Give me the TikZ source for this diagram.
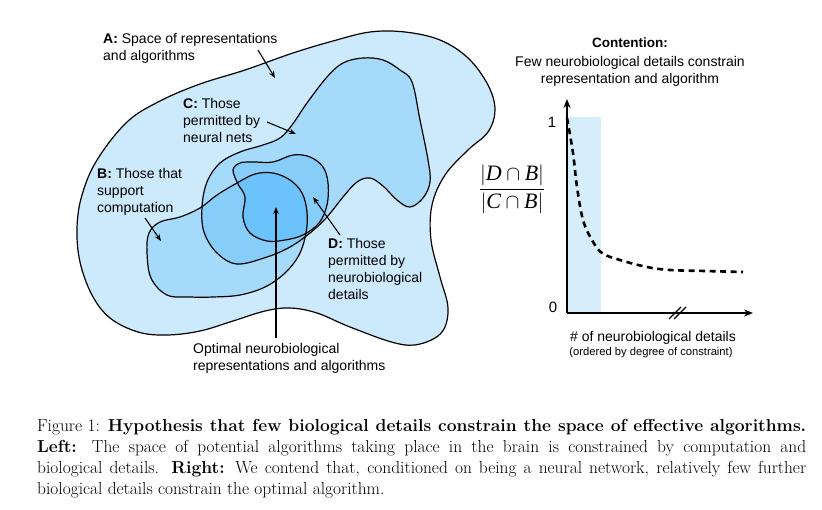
\documentclass[tikz,border=0pt]{standalone}
\usepackage{fontspec}
\newfontfamily\arial{Liberation Sans}
\newfontfamily\tnr{Liberation Serif}
\usetikzlibrary{arrows.meta}
\definecolor{regA}{RGB}{205,234,252}
\definecolor{overlay}{RGB}{0,150,250}
\definecolor{shadebg}{RGB}{214,237,252}
\tikzset{
  lbl/.style={font=\arial\fontsize{14}{17}\selectfont, align=left, anchor=west, inner sep=0pt},
  ctr/.style={font=\arial\fontsize{14}{17}\selectfont, align=center, inner sep=0pt},
  outline/.style={draw=black, line width=1.2pt},
  layer/.style={fill=overlay, fill opacity=0.19},
  pointer/.style={-{Stealth[length=7pt,width=5.5pt]}, line width=1.1pt},
  axisline/.style={-{Stealth[length=9pt,width=7pt]}, line width=1.8pt},
  dcurve/.style={line width=2.6pt, dash pattern=on 6pt off 4.5pt},
}
\newcommand\shpA{plot[smooth cycle, tension=0.6] coordinates {(77,228) (82,195) (97,160) (127,122) (160,101) (200,84) (245,70) (293,53) (333,41) (370,32) (405,32) (440,40) (468,58) (488,85) (495,110) (488,132) (468,150) (445,175) (432,205) (431,240) (440,277) (448,308) (442,332) (420,344) (395,343) (350,327) (317,313) (290,308) (265,311) (233,321) (200,331) (167,335) (138,332) (110,318) (92,295) (80,262)}}
\newcommand\shpB{plot[smooth cycle, tension=0.6] coordinates {(147,252) (151,278) (167,295) (190,297) (213,297) (240,295) (265,287) (285,273) (299,255) (306,233) (307,212) (302,193) (290,180) (273,173) (255,174) (237,183) (217,195) (200,208) (180,217) (160,222) (149,233)}}
\newcommand\shpC{plot[smooth cycle, tension=0.6] coordinates {(217,253) (204,232) (202,207) (207,182) (220,163) (240,152) (263,145) (280,138) (292,125) (307,103) (327,77) (343,63) (363,58) (383,60) (400,70) (412,82) (420,120) (428,160) (430,182) (423,198) (410,207) (397,200) (383,186) (370,178) (357,182) (343,197) (327,217) (310,233) (290,247) (267,257) (237,264)}}
\newcommand\shpD{plot[smooth cycle, tension=0.6] coordinates {(233,170) (240,163) (253,162) (273,162) (293,155) (310,157) (323,167) (328,183) (327,205) (319,223) (303,235) (285,240) (267,241) (250,233) (243,217) (245,197) (238,184)}}
\newcommand\ti[1]{\hbox{\tnr\itshape #1}}
\begin{document}
\begin{tikzpicture}[x=1pt,y=-1pt]
\useasboundingbox (0,0) rectangle (822,509);
\fill[white] (0,0) rectangle (822,509);

% ---- left: regions
\fill[regA] \shpA;
\fill[layer] \shpB;
\fill[layer] \shpC;
\fill[layer] \shpD;
\draw[outline] \shpA;
\draw[outline] \shpB;
\draw[outline] \shpC;
\draw[outline] \shpD;

% ---- labels
\node[lbl] (la) at (103,48) {\textbf{A:} Space of representations\\and algorithms};
\node[lbl] (lc) at (183,120) {\textbf{C:} Those\\permitted by\\neural nets};
\node[lbl] (lb) at (97,192) {\textbf{B:} Those that\\support\\computation};
\node[lbl] (ld) at (328,268.5) {\textbf{D:} Those\\permitted by\\neurobiological\\details};
\node[lbl] (lo) at (193,358.5) {Optimal neurobiological\\representations and algorithms};

\coordinate (as) at (258,50);  \coordinate (ae) at (275,78);
\coordinate (cs) at (267,122); \coordinate (ce) at (296,134);
\coordinate (bs) at (145,218); \coordinate (be) at (161,241);
\coordinate (ds) at (340,235); \coordinate (de) at (313,197);
\coordinate (os) at (276,338); \coordinate (oe) at (276,207);
\draw[pointer] (as) -- (ae);
\draw[pointer] (cs) -- (ce);
\draw[pointer] (bs) -- (be);
\draw[pointer] (ds) -- (de);
\draw[pointer] (os) -- (oe);

% ---- right: plot
\coordinate (O) at (567,313);
\coordinate (ytop) at (567,99);
\coordinate (xend) at (753,313);
\fill[shadebg] (567,117) rectangle (601,313);
\draw[axisline] (O) -- (ytop);
\draw[axisline] (O) -- (xend);
\draw[dcurve] plot[smooth, tension=0.6] coordinates {(567,118) (573,153) (577,187) (583,220) (592,240) (602,253) (620,260) (647,267) (670,270) (705,271) (743,272)};
\draw[line width=1.2pt] (669,319) -- (681,307) (674,319) -- (686,307);

\node[ctr, font=\arial\bfseries\fontsize{13.5}{17}\selectfont] (title) at (630,43) {Contention:};
\node[ctr] (sub) at (630,71.5) {Few neurobiological details constrain\\representation and algorithm};
\node[ctr, font=\arial\fontsize{15}{17}\selectfont] (one) at (552,122) {1};
\node[ctr, font=\arial\fontsize{15}{17}\selectfont] (zero) at (553,307) {0};
\node[ctr] (xl) at (653,338) {\# of neurobiological details};
\node[ctr, font=\arial\fontsize{11.2}{13}\selectfont] (xl2) at (651,353) {(ordered by degree of constraint)};
\node[inner sep=0pt, font=\fontsize{22}{26}\selectfont] (frac) at (512,189) {$\displaystyle\frac{|\ti{D}\cap\ti{B}|}{|\ti{C}\cap\ti{B}|}$};

% ---- caption
\node[anchor=north west, inner sep=0pt, text width=769pt, align=justify,
      font=\fontsize{17.4}{21}\selectfont] (cap) at (37,419)
  {Figure 1: \textbf{Hypothesis that few biological details constrain the space of effective algorithms.}\linebreak
   \textbf{Left:} The space of potential algorithms taking place in the brain is constrained by computation and\linebreak
   biological details. \textbf{Right:} We contend that, conditioned on being a neural network, relatively few further\linebreak
   biological details constrain the optimal algorithm.};
\end{tikzpicture}
\end{document}
